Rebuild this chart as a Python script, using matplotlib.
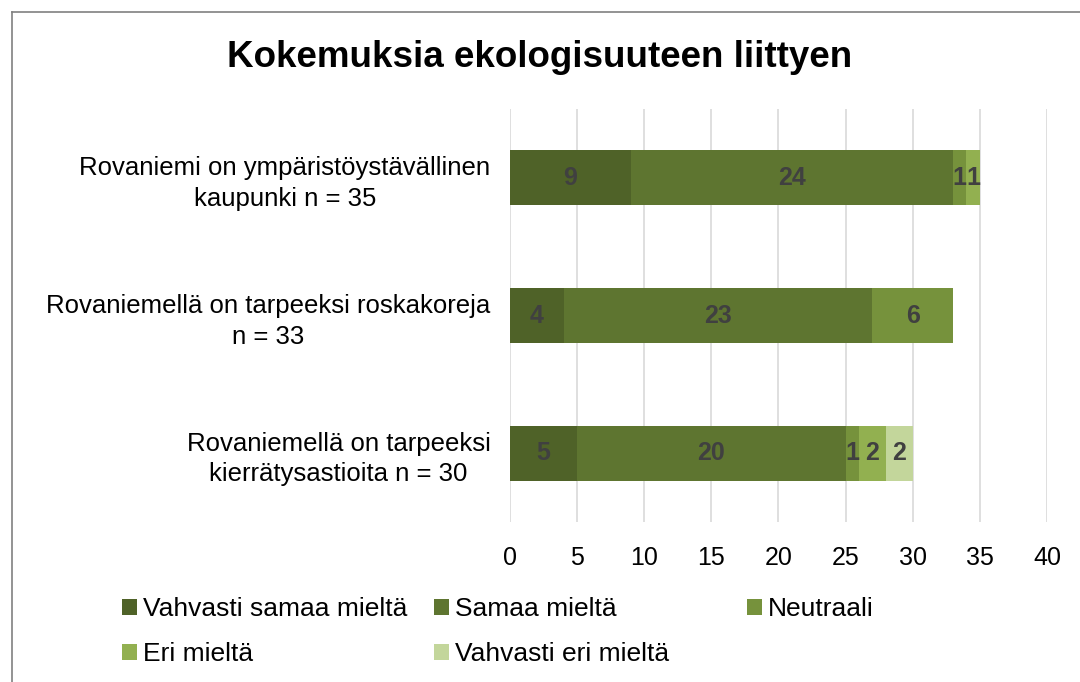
import matplotlib.pyplot as plt
from matplotlib.lines import Line2D

plt.rcParams['font.family'] = ['Liberation Sans', 'DejaVu Sans']

# categories, top to bottom
categories = ['Rovaniemi on ympäristöystävällinen\nkaupunki n = 35',
              'Rovaniemellä on tarpeeksi roskakoreja\nn = 33',
              'Rovaniemellä on tarpeeksi\nkierrätysastioita n = 30']
series_names = ['Vahvasti samaa mieltä', 'Samaa mieltä', 'Neutraali',
                'Eri mieltä', 'Vahvasti eri mieltä']
vahvasti_samaa = [9, 4, 5]
samaa = [24, 23, 20]
neutraali = [1, 6, 1]
eri = [1, 0, 2]
vahvasti_eri = [0, 0, 2]
colors = ['#4F6228', '#5E7530', '#76923C', '#92B050', '#C3D69B']

series = [vahvasti_samaa, samaa, neutraali, eri, vahvasti_eri]

fig = plt.figure(figsize=(10.8, 6.82), dpi=100)
ax = fig.add_axes([0.4722, 0.2346, 0.4972, 0.6054])

ypos = [2, 1, 0]
left = [0, 0, 0]
handles = []
for name, vals, col in zip(series_names, series, colors):
    bars = ax.barh(ypos, vals, left=left, height=0.4, color=col, label=name, zorder=3)
    handles.append(bars)
    for b, v in zip(bars, vals):
        if v > 0:
            ax.text(b.get_x() + b.get_width() / 2, b.get_y() + b.get_height() / 2, str(v),
                    ha='center', va='center', fontsize=18, fontweight='bold',
                    color='#404040', zorder=4)
    left = [l + v for l, v in zip(left, vals)]

ax.set_xlim(0, 40)
ax.set_ylim(-0.5, 2.5)
ax.set_xticks(range(0, 41, 5))
ax.set_yticks(ypos)
ax.set_yticklabels(categories, multialignment='center', linespacing=1.35)
ax.tick_params(axis='both', length=0, colors='black')
ax.tick_params(axis='y', labelsize=18.5, pad=14)
ax.tick_params(axis='x', labelsize=18, pad=17)
ax.grid(axis='x', color='#D9D9D9', linewidth=1.2, zorder=0)
for s in ax.spines.values():
    s.set_visible(False)

fig.text(0.5, 0.915, 'Kokemuksia ekologisuuteen liittyen', ha='center', va='center',
         fontsize=26.5, fontweight='bold')

# legend laid out in fixed columns, filled row by row
legend_cols = [[0, 3], [1, 4], [2]]
legend_x = [122, 434, 747]
for idx, x in zip(legend_cols, legend_x):
    fig.legend([handles[i] for i in idx], [series_names[i] for i in idx],
               loc='upper left', bbox_to_anchor=(x / 1080, 1 - 597 / 682),
               frameon=False, fontsize=19, handlelength=0.55, handleheight=0.55,
               handletextpad=0.25, labelspacing=0.8, borderaxespad=0, borderpad=0)

# outer frame (top and left edges visible)
fig.add_artist(Line2D([12 / 1080, 12 / 1080], [0, 1 - 12 / 682], transform=fig.transFigure,
                      color='#808080', linewidth=1.2))
fig.add_artist(Line2D([12 / 1080, 1], [1 - 12 / 682, 1 - 12 / 682], transform=fig.transFigure,
                      color='#808080', linewidth=1.2))

fig.savefig('out.png', dpi=100)
